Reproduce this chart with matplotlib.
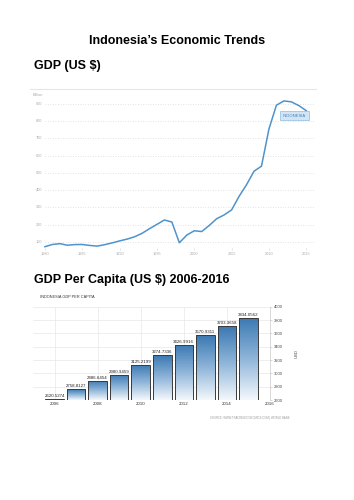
import matplotlib.pyplot as plt
import matplotlib.transforms as mtransforms
import numpy as np

plt.rcParams['font.family'] = ['Liberation Sans', 'DejaVu Sans']

# GDP, current US$ billions
gdp_years = list(range(1980, 2016))
gdp_billion = [72.5, 85.5, 90.2, 81.1, 84.9, 85.3, 79.9, 75.9, 84.3, 94.5,
               106.1, 116.6, 130.0, 150.0, 176.9, 202.1, 227.4, 215.7, 95.4, 140.0,
               165.0, 160.4, 195.7, 234.8, 256.8, 285.9, 364.6, 432.2, 510.2, 539.6,
               755.1, 893.0, 917.9, 912.5, 890.8, 861.3]
gdp_yticks = [100, 200, 300, 400, 500, 600, 700, 800, 900]
gdp_xticks = [1980, 1985, 1990, 1995, 2000, 2005, 2010, 2015]

# GDP per capita, US$
pc_years = list(range(2006, 2016))
pc_values = [2620.5274, 2758.8127, 2886.6454, 2980.9459, 3125.2199,
             3274.7336, 3426.9916, 3570.9311, 3703.3658, 3834.0562]
pc_yticks = [2600, 2800, 3000, 3200, 3400, 3600, 3800, 4000]
pc_xticks = [2006, 2008, 2010, 2012, 2014, 2016]

line_blue = '#4f93cc'
W, H = 354, 500
fig = plt.figure(figsize=(W / 100, H / 100), dpi=100)

fig.text(0.5, 1 - 41 / H, "Indonesia\u2019s Economic Trends", ha='center', va='center',
         fontsize=9, fontweight='bold')
fig.text(34 / W, 1 - 65.5 / H, "GDP (US $)", ha='left', va='center',
         fontsize=9, fontweight='bold')
fig.text(34 / W, 1 - 280 / H, "GDP Per Capita (US $) 2006-2016", ha='left', va='center',
         fontsize=9, fontweight='bold')

# ---- GDP line chart ----
ax1 = fig.add_axes([30 / W, 1 - 248 / H, 286 / W, 159 / H])
ax1.set_xlim(1978, 2016.3)
ax1.set_ylim(65, 987)
for s in ['left', 'right', 'bottom']:
    ax1.spines[s].set_visible(False)
ax1.spines['top'].set_color('#e6e6e6')
ax1.spines['top'].set_linewidth(0.8)
for v in gdp_yticks:
    ax1.plot([1980, 2016], [v, v], color='#d9d9d9', lw=0.6, ls=(0, (1, 2)), zorder=1)
ax1.plot(gdp_years, gdp_billion, color=line_blue, lw=1.1, zorder=3)
ax1.set_yticks([])
ax1.set_xticks(gdp_xticks)
ax1.set_xticklabels([str(t) for t in gdp_xticks], fontsize=2.8, color='#aaaaaa')
ax1.tick_params(axis='x', length=1.5, width=0.4, color='#cccccc', pad=1.5)
ytrans = mtransforms.blended_transform_factory(ax1.transAxes, ax1.transData)
for v in gdp_yticks:
    ax1.text(0.021, v, str(v), transform=ytrans, fontsize=2.8, color='#aaaaaa',
             ha='left', va='center')
ax1.text(0.01, 0.962, "Billion", transform=ax1.transAxes, fontsize=2.8,
         color='#aaaaaa', ha='left', va='center')
ax1.text(0.925, 0.833, "INDONESIA", transform=ax1.transAxes, fontsize=3,
         color='#3f7fbf', ha='center', va='center',
         bbox=dict(boxstyle='square,pad=0.6', fc='#d3e5f5', ec='#8dbbe2', lw=0.5))

# ---- GDP per capita bar chart ----
ax2 = fig.add_axes([33 / W, 0.2, 237 / W, 93.3 / H])
ax2.set_xlim(2005.0, 2016.0)
ax2.set_ylim(2600, 4000)
for s in ['left', 'top', 'bottom']:
    ax2.spines[s].set_visible(False)
ax2.spines['right'].set_color('#bbbbbb')
ax2.spines['right'].set_linewidth(0.4)
ax2.yaxis.tick_right()
ax2.yaxis.set_label_position('right')
ax2.set_yticks(pc_yticks)
ax2.set_yticklabels([str(t) for t in pc_yticks], fontsize=3, color='#444444')
ax2.set_xticks(pc_xticks)
ax2.set_xticklabels([str(t) for t in pc_xticks], fontsize=3.2, color='#333333')
ax2.tick_params(axis='y', length=1.5, width=0.4, color='#bbbbbb', pad=1)
ax2.tick_params(axis='x', length=0, pad=1.5)
ax2.grid(True, color='#e8e8e8', lw=0.5)
ax2.set_axisbelow(True)
ax2.set_ylabel("USD", fontsize=3, color='#444444', labelpad=9)

bars = ax2.bar(pc_years, [v - 2600 for v in pc_values], bottom=2600, width=0.86,
               facecolor='none', edgecolor='#3a3a3a', linewidth=0.7, zorder=3)
grad = np.linspace(1, 0, 256).reshape(-1, 1)
cmap = plt.matplotlib.colors.LinearSegmentedColormap.from_list(
    'g', ['#f4f8fc', '#8fb5d9', '#3a78b2'])
for b, v in zip(bars, pc_values):
    x0, w = b.get_x(), b.get_width()
    im = ax2.imshow(grad, extent=[x0, x0 + w, 2600, v], aspect='auto',
                    cmap=cmap, vmin=0, vmax=1, zorder=2)
    im.set_clip_path(b)
    ax2.text(x0 + w / 2, v + 15, f"{v:.4f}", ha='center', va='bottom',
             fontsize=3.2, color='#222222', zorder=4)
ax2.set_xlim(2005.0, 2016.0)
ax2.set_ylim(2600, 4000)

fig.text(40 / W, 1 - 297 / H, "INDONESIA GDP PER CAPITA", fontsize=2.8,
         color='#333333', ha='left', va='center')
fig.text(210 / W, 1 - 418 / H, "SOURCE: WWW.TRADINGECONOMICS.COM | WORLD BANK",
         fontsize=2.0, color='#999999', ha='left', va='center')

fig.savefig('out.png', dpi=100)
